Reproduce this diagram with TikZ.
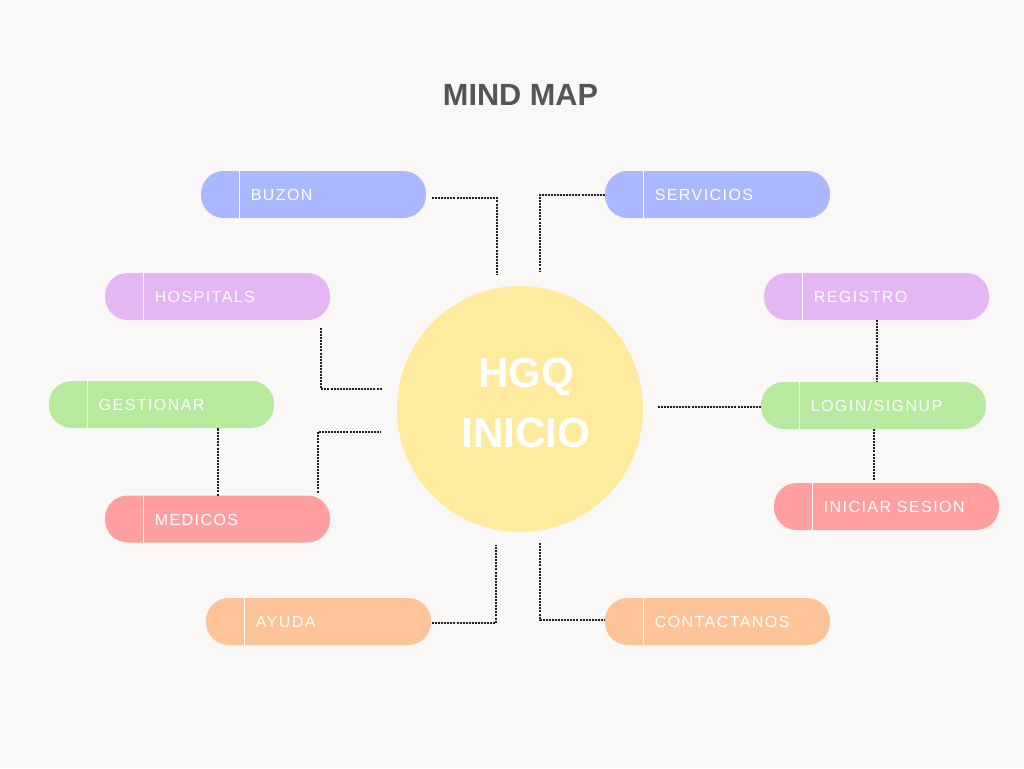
\documentclass[tikz,border=0pt]{standalone}
\usepackage{fontspec}
\setmainfont{Liberation Sans}
\usetikzlibrary{calc}

\definecolor{paper}{HTML}{FAF8F6}
\definecolor{titlegrey}{HTML}{555555}
\definecolor{hubyellow}{HTML}{FFEB9E}
\definecolor{pblue}{HTML}{AAB8FF}
\definecolor{plilac}{HTML}{E4B7F4}
\definecolor{pgreen}{HTML}{B7E99E}
\definecolor{pred}{HTML}{FF9F9F}
\definecolor{porange}{HTML}{FFC399}
\definecolor{dotink}{HTML}{1E1E1E}

\tikzset{
  pillbox/.style={draw=none, minimum width=168.75pt, minimum height=35.25pt,
    rounded corners=17pt, inner sep=0pt, outer sep=0pt},
  pilltext/.style={text=white, inner sep=0pt,
    font=\fontsize{12pt}{14pt}\selectfont\addfontfeature{LetterSpace=9}},
  divider/.style={white, line width=1.3pt},
  dotline/.style={dotink, line width=1.5pt, dash pattern=on 1.5pt off 0.8pt},
  hubnode/.style={circle, fill=hubyellow, minimum size=184.5pt, inner sep=0pt},
}

% #1 name, #2 left edge, #3 top edge, #4 fill colour, #5 label
\newcommand\mappill[5]{%
  \node[pillbox, fill=#4, anchor=north west] (#1) at (#2,#3) {};
  \draw[divider] ($(#1.north west)+(38.5,0)$) -- ($(#1.south west)+(38.5,0)$);
  \node[pilltext, anchor=base west] at ($(#1.west)+(49.5,6)$) {#5};
}

\begin{document}
\begin{tikzpicture}[x=0.75pt, y=-0.75pt]
  \useasboundingbox (0,0) rectangle (1024,768);
  \fill[paper] (0,0) rectangle (1024,768);

  % title
  \node[text=titlegrey, anchor=base, inner sep=0pt,
        font=\fontsize{23pt}{26pt}\selectfont\bfseries] (title) at (520.5,105) {MIND MAP};

  % central topic
  \node[hubnode] (hub) at (520,409) {};
  \node[text=white, align=center, inner sep=0pt,
        font=\fontsize{31.5pt}{45pt}\selectfont\bfseries] (hubtext) at (526,403) {HGQ\\INICIO};

  % branches
  \mappill{buzon}{201}{171}{pblue}{BUZON}
  \mappill{servicios}{605}{171}{pblue}{SERVICIOS}
  \mappill{hospitals}{105}{273}{plilac}{HOSPITALS}
  \mappill{registro}{764}{273}{plilac}{REGISTRO}
  \mappill{gestionar}{49}{381}{pgreen}{GESTIONAR}
  \mappill{login}{761}{382}{pgreen}{LOGIN/SIGNUP}
  \mappill{medicos}{105}{495.5}{pred}{MEDICOS}
  \mappill{iniciar}{774}{483}{pred}{INICIAR SESION}
  \mappill{ayuda}{206}{598}{porange}{AYUDA}
  \mappill{contactanos}{605}{598}{porange}{CONTACTANOS}

  % dotted connectors
  \draw[dotline] ($(buzon.east)+(6,3.5)$) -| ($(hub.center)+(-23,-134)$);
  \draw[dotline] (servicios.west) -| ($(hub.center)+(20,-137)$);
  \draw[dotline] ($(hospitals.south east)+(-9,8)$) |- ($(hub.center)+(-138,-20)$);
  \draw[dotline] ($(medicos.north east)+(-12,-3)$) |- ($(hub.center)+(-139,23)$);
  \draw[dotline] (medicos.north) -- (medicos.north |- gestionar.south);
  \draw[dotline] (registro.south) -- (registro.south |- login.north);
  \draw[dotline] (login.south) -- ($(login.south |- iniciar.north)+(0,-2)$);
  \draw[dotline] ($(login.west)+(0,1.5)$) -- ($(hub.east |- login.west)+(15,1.5)$);
  \draw[dotline] ($(ayuda.east)+(1,1.5)$) -| ($(hub.center)+(-24,136)$);
  \draw[dotline] ($(hub.center)+(20,134)$) |- ($(contactanos.west)+(0,-1.5)$);
\end{tikzpicture}
\end{document}
